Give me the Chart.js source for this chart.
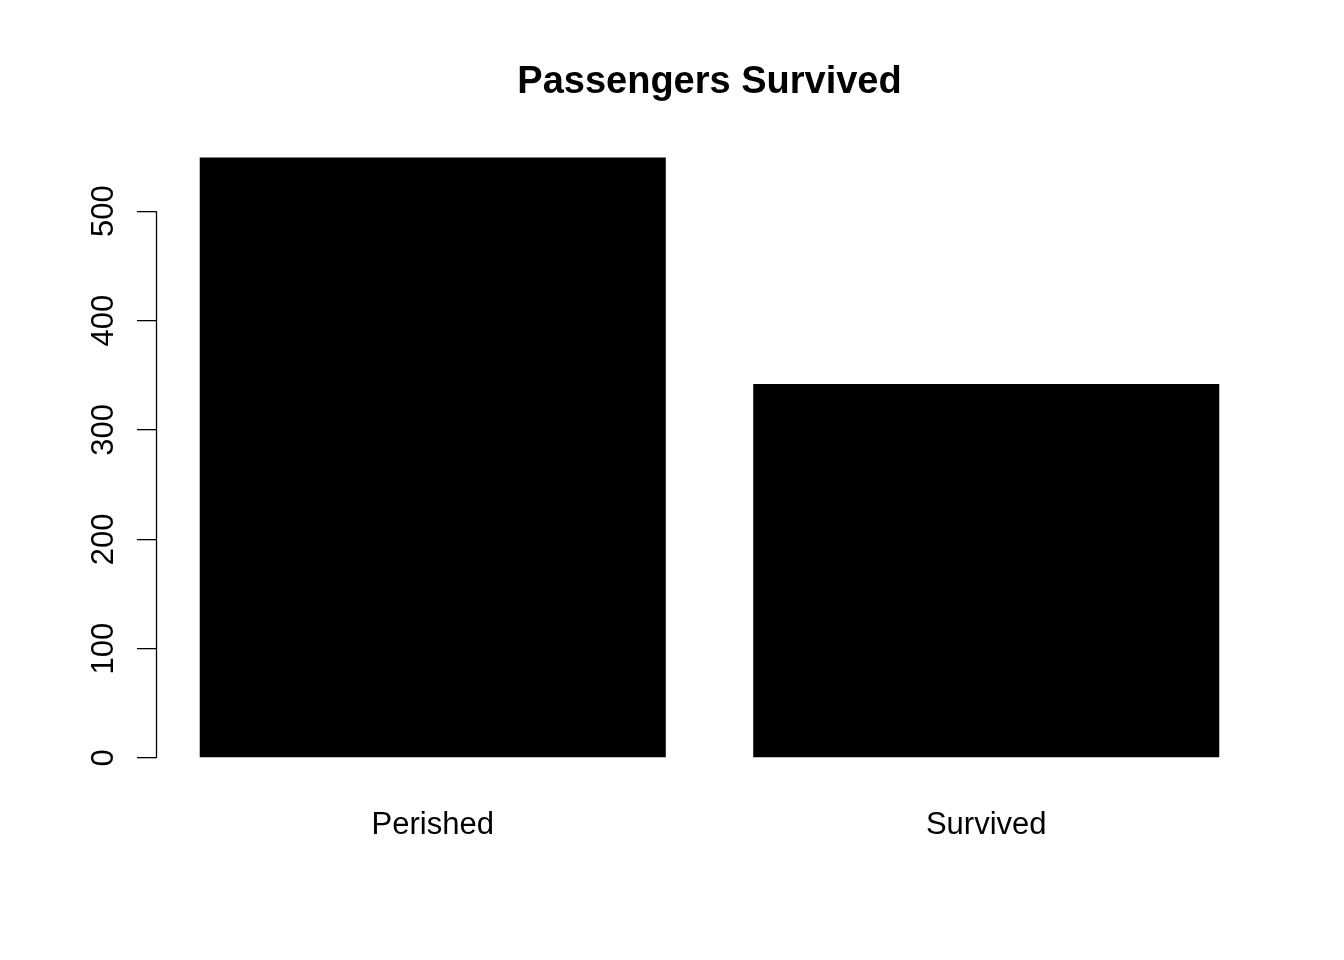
<!DOCTYPE html>
<html>
<head>
<meta charset="utf-8">
<script src="https://cdn.jsdelivr.net/npm/chart.js@4"></script>
<style>
  html, body { margin: 0; padding: 0; background: #fff; }
  #wrap { width: 1344px; height: 960px; }
</style>
</head>
<body>
<div id="wrap"><canvas id="chart" width="1344" height="960"></canvas></div>
<script>
// data
const categories = ['Perished', 'Survived'];
const counts = [549, 342];
const yTicks = [0, 100, 200, 300, 400, 500];

const FONT = "'Liberation Sans', Arial, sans-serif";

// R extends the value range by 4% on each side
const yPad = Math.max(...counts) * 0.04;

// draws the y axis line (only from first to last tick) and rotated labels
const rAxis = {
  id: 'rAxis',
  afterDraw(chart) {
    const ctx = chart.ctx;
    const y = chart.scales.y;
    const x0 = chart.chartArea.left + 0.5;
    ctx.save();
    ctx.strokeStyle = '#000';
    ctx.lineWidth = 1.3;
    ctx.beginPath();
    ctx.moveTo(x0, y.getPixelForValue(yTicks[0]));
    ctx.lineTo(x0, y.getPixelForValue(yTicks[yTicks.length - 1]));
    ctx.stroke();

    ctx.fillStyle = '#000';
    ctx.font = '31px ' + FONT;
    ctx.textAlign = 'center';
    ctx.textBaseline = 'alphabetic';
    yTicks.forEach(v => {
      ctx.save();
      ctx.translate(x0 - 44, y.getPixelForValue(v));
      ctx.rotate(-Math.PI / 2);
      ctx.fillText(String(v), 0, 0);
      ctx.restore();
    });
    ctx.restore();
  }
};

new Chart(document.getElementById('chart'), {
  type: 'bar',
  data: {
    labels: categories,
    datasets: [{
      data: counts,
      backgroundColor: '#000',
      borderWidth: 0,
      categoryPercentage: 1,
      barPercentage: 0.842
    }]
  },
  options: {
    responsive: false,
    animation: false,
    layout: { padding: { left: 0, right: 81, top: 0, bottom: 0 } },
    plugins: {
      legend: { display: false },
      tooltip: { enabled: false },
      title: {
        display: true,
        fullSize: false,
        text: 'Passengers Survived',
        color: '#000',
        font: { family: FONT, size: 38, weight: 'bold', lineHeight: 1.2 },
        padding: { top: 60, bottom: 28 }
      }
    },
    scales: {
      x: {
        grid: { display: false, drawTicks: false },
        border: { display: false },
        ticks: {
          color: '#000',
          font: { family: FONT, size: 31 },
          padding: 25,
          maxRotation: 0
        },
        afterFit(scale) { scale.height = 178; }
      },
      y: {
        min: -yPad,
        max: Math.max(...counts) + yPad,
        afterBuildTicks(scale) {
          scale.ticks = yTicks.map(v => ({ value: v }));
        },
        afterFit(scale) { scale.width = 156; },
        grid: {
          drawOnChartArea: false,
          drawTicks: true,
          tickLength: 19,
          color: '#000',
          lineWidth: 1.3
        },
        border: { display: false },
        ticks: { display: false }
      }
    }
  },
  plugins: [rAxis]
});
</script>
</body>
</html>
